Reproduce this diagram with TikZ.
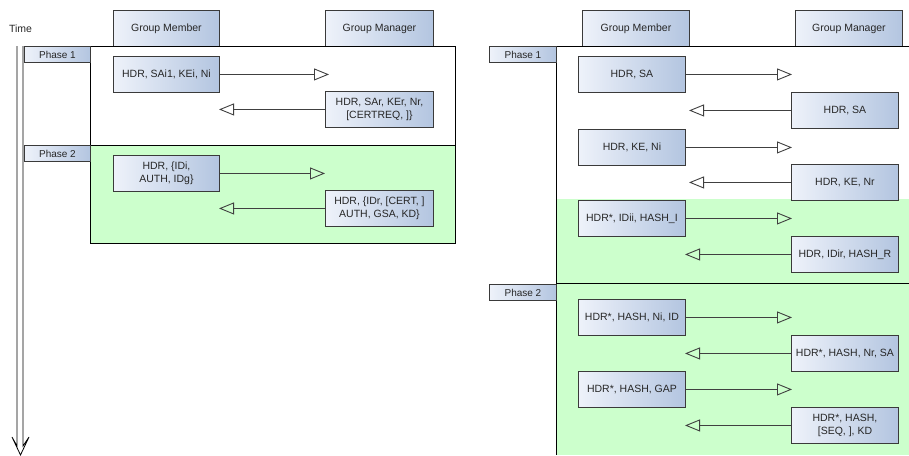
\documentclass[tikz,border=0pt]{standalone}
\usepackage{fontspec}
\setmainfont{Liberation Sans}
\usetikzlibrary{arrows.meta}

\definecolor{boxlight}{HTML}{EEF2FA}
\definecolor{boxdark}{HTML}{B3C5E0}
\definecolor{edge}{HTML}{3A3A3A}
\definecolor{phasegreen}{HTML}{CCFFCC}
\definecolor{wire}{HTML}{404040}

\begin{document}
\begin{tikzpicture}[x=1pt,y=-1pt,
  every node/.style={font=\fontsize{10.5}{13.5}\selectfont, text=black!85},
  box/.style={draw=edge, line width=0.9pt, left color=boxlight, right color=boxdark,
              anchor=north west, inner sep=0pt, align=center},
  header/.style={box, minimum height=36pt},
  msgbox/.style={box, minimum width=107pt, minimum height=36pt},
  phaselabel/.style={box, minimum height=16pt, font=\fontsize{10}{12}\selectfont},
  frame/.style={draw=black, line width=0.9pt},
  msg/.style={draw=wire, line width=0.9pt,
              -{Triangle[open, length=15pt, width=12pt, line width=0.9pt]}},
]
\useasboundingbox (0,0) rectangle (909,455);

% ---------------- left: first protocol ----------------
\fill[phasegreen] (90,145) rectangle (455,243);

\node[anchor=center] (time) at (20.5,29) {Time};
\node[header, minimum width=106pt] (lgm)  at (113,10) {Group Member};
\node[header, minimum width=108pt] (lmgr) at (325,10) {Group Manager};

\draw[frame] (90,46) rectangle (455,243);
\draw[frame] (90,145) -- (455,145);

% time axis: hollow double-shaft arrow
\draw[line width=0.8pt, line join=miter]
  (17,46) -- (17,446) -- (12,437) -- (20.5,455) -- (29,437) -- (23,446) -- (23,46);

\node[phaselabel, minimum width=66pt] (lp1) at (24,46)  {Phase 1};
\node[phaselabel, minimum width=66pt] (lp2) at (24,145) {Phase 2};

\node[msgbox, minimum width=106pt] (m1) at (113,56)  {HDR, SAi1, KEi, Ni};
\node[msgbox, minimum width=108pt] (m2) at (325,91)  {HDR, SAr, KEr, Nr,\\{[}CERTREQ, ]\}};
\node[msgbox, minimum width=106pt] (m3) at (113,155) {HDR, \{IDi,\\AUTH, IDg\}};
\node[msgbox, minimum width=108pt] (m4) at (325,190) {HDR, \{IDr, {[}CERT, ]\\AUTH, GSA, KD\}};

\coordinate (ltipa) at (329,0);
\coordinate (ltipb) at (325,0);
\coordinate (ltipl) at (219,0);

\draw[msg] (m1.east) -- (m1.east -| ltipa);
\draw[msg] (m2.west) -- (m2.west -| ltipl);
\draw[msg] (m3.east) -- (m3.east -| ltipb);
\draw[msg] (m4.west) -- (m4.west -| ltipl);

% ---------------- right: second protocol ----------------
\fill[phasegreen] (556,199) rectangle (909,455);

\node[header, minimum width=107pt] (rgm)  at (582,10) {Group Member};
\node[header, minimum width=107pt] (rmgr) at (795,10) {Group Manager};

\draw[frame] (909,46) -- (556,46) -- (556,455);
\draw[frame] (556,283) -- (909,283);

\node[phaselabel, minimum width=67pt] (rp1) at (489,46)  {Phase 1};
\node[phaselabel, minimum width=67pt] (rp2) at (489,284) {Phase 2};

\node[msgbox] (r1)  at (578,56)  {HDR, SA};
\node[msgbox] (r2)  at (791,92)  {HDR, SA};
\node[msgbox] (r3)  at (578,129) {HDR, KE, Ni};
\node[msgbox] (r4)  at (791,164) {HDR, KE, Nr};
\node[msgbox] (r5)  at (578,200) {HDR*, IDii, HASH\_I};
\node[msgbox] (r6)  at (791,236) {HDR, IDir, HASH\_R};
\node[msgbox] (r7)  at (578,299) {HDR*, HASH, Ni, ID};
\node[msgbox] (r8)  at (791,335) {HDR*, HASH, Nr, SA};
\node[msgbox] (r9)  at (578,371) {HDR*, HASH, GAP};
\node[msgbox] (r10) at (791,407) {HDR*, HASH,\\{[}SEQ, ], KD};

\coordinate (rtipr)  at (792,0);
\coordinate (rtipla) at (689,0);
\coordinate (rtiplb) at (685,0);

\draw[msg] (r1.east)  -- (r1.east  -| rtipr);
\draw[msg] (r2.west)  -- (r2.west  -| rtipla);
\draw[msg] (r3.east)  -- (r3.east  -| rtipr);
\draw[msg] (r4.west)  -- (r4.west  -| rtipla);
\draw[msg] (r5.east)  -- (r5.east  -| rtipr);
\draw[msg] (r6.west)  -- (r6.west  -| rtiplb);
\draw[msg] (r7.east)  -- (r7.east  -| rtipr);
\draw[msg] (r8.west)  -- (r8.west  -| rtiplb);
\draw[msg] (r9.east)  -- (r9.east  -| rtipr);
\draw[msg] (r10.west) -- (r10.west -| rtiplb);
\end{tikzpicture}
\end{document}
